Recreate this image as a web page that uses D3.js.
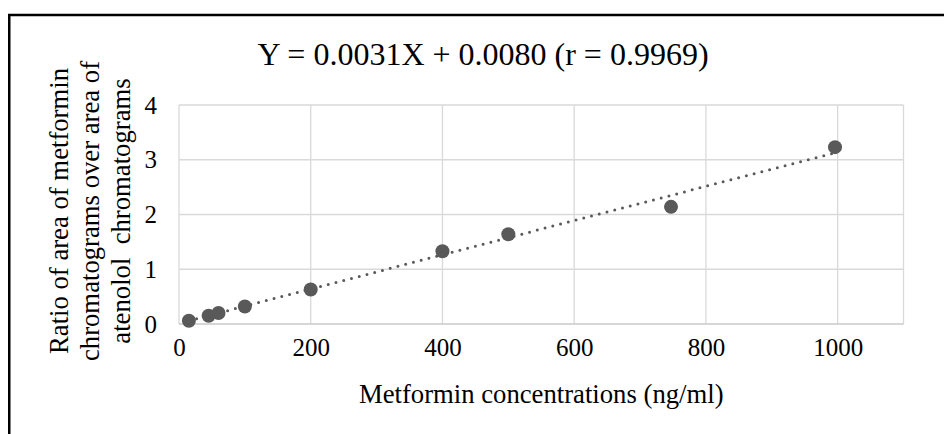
<!DOCTYPE html>
<html>
<head>
<meta charset="utf-8">
<script src="https://cdn.jsdelivr.net/npm/d3@7"></script>
<style>
  body { margin: 0; background: #fff; }
  svg text { font-family: "Liberation Serif", "Times New Roman", serif; fill: #000; }
</style>
</head>
<body>
<div id="chart"></div>
<script>
// calibration data
const concentrations = [15, 45, 60, 100, 200, 400, 500, 747, 996];
const ratios = [0.06, 0.15, 0.20, 0.32, 0.63, 1.33, 1.64, 2.14, 3.23];
const xTicks = [0, 200, 400, 600, 800, 1000];
const yTicks = [0, 1, 2, 3, 4];
const titleText = "Y = 0.0031X + 0.0080 (r = 0.9969)";
const xTitle = "Metformin concentrations (ng/ml)";
const yTitleLines = ["Ratio of area of metformin", "chromatograms over area of", "atenolol\u00a0 chromatograms"];

const w = 944;
const h = 434;
const margin = { t: 105, r: 41, b: 110, l: 179 };
const serif = '"Liberation Serif", "Times New Roman", serif';

const svg = d3.select("#chart").append("svg")
	.attr("width", w)
	.attr("height", h);

// outer frame (only top and left edges fall inside the picture)
svg.append("rect")
	.attr("x", 9.25).attr("y", 15)
	.attr("width", 1200).attr("height", 1200)
	.attr("fill", "none")
	.attr("stroke", "#000")
	.attr("stroke-width", 2.5);

const xScale = d3.scaleLinear().domain([0, 1100]).range([margin.l, w - margin.r + 0.5]);
const yScale = d3.scaleLinear().domain([0, 4]).range([h - margin.b, margin.t]);

// gridlines
const grid = svg.append("g");
grid.selectAll("line.v")
	.data(xTicks.concat([1100]))
	.join("line")
	.attr("x1", d => xScale(d)).attr("x2", d => xScale(d))
	.attr("y1", yScale(0)).attr("y2", yScale(4))
	.attr("stroke", "#d9d9d9").attr("stroke-width", 1.3);
grid.selectAll("line.h")
	.data(yTicks)
	.join("line")
	.attr("x1", xScale(0)).attr("x2", xScale(1100))
	.attr("y1", d => yScale(d)).attr("y2", d => yScale(d))
	.attr("stroke", d => d === 0 ? "#c8c8c8" : "#d9d9d9")
	.attr("stroke-width", 1.3);

// axes (labels only, no tick marks)
const xAxis = d3.axisBottom(xScale).tickValues(xTicks).tickFormat(d3.format("d")).tickSize(0).tickPadding(14);
const xAxisG = svg.append("g")
	.attr("transform", `translate(0, ${yScale(0)})`)
	.call(xAxis)
	.attr("font-family", serif)
	.attr("font-size", 25);
xAxisG.select(".domain").remove();

const yAxis = d3.axisLeft(yScale).tickValues(yTicks).tickFormat(d3.format("d")).tickSize(0).tickPadding(22);
const yAxisG = svg.append("g")
	.attr("transform", `translate(${margin.l}, 0)`)
	.call(yAxis)
	.attr("font-family", serif)
	.attr("font-size", 25);
yAxisG.select(".domain").remove();

// linear trendline from least squares
const n = concentrations.length;
const mx = d3.mean(concentrations);
const my = d3.mean(ratios);
let sxy = 0, sxx = 0;
for (let i = 0; i < n; i++) {
	sxy += (concentrations[i] - mx) * (ratios[i] - my);
	sxx += (concentrations[i] - mx) ** 2;
}
const slope = sxy / sxx;
const intercept = my - slope * mx;
const ends = d3.extent(concentrations);

svg.append("line")
	.attr("x1", xScale(ends[0])).attr("y1", yScale(slope * ends[0] + intercept))
	.attr("x2", xScale(ends[1])).attr("y2", yScale(slope * ends[1] + intercept))
	.attr("stroke", "#595959")
	.attr("stroke-width", 3)
	.attr("stroke-linecap", "round")
	.attr("stroke-dasharray", "0 8");

// markers
svg.append("g").selectAll("circle")
	.data(concentrations)
	.join("circle")
	.attr("cx", d => xScale(d))
	.attr("cy", (d, i) => yScale(ratios[i]))
	.attr("r", 7)
	.attr("fill", "#595959");

// titles
svg.append("text")
	.attr("x", 483).attr("y", 65)
	.attr("text-anchor", "middle")
	.style("font-size", "32px")
	.text(titleText);

svg.append("text")
	.attr("x", (xScale(0) + xScale(1100)) / 2).attr("y", 403)
	.attr("text-anchor", "middle")
	.style("font-size", "26.7px")
	.text(xTitle);

const yT = svg.append("text")
	.attr("transform", "translate(0, 211) rotate(-90)")
	.attr("text-anchor", "middle")
	.style("font-size", "26.7px");
yTitleLines.forEach((t, i) => {
	yT.append("tspan")
		.attr("x", 0)
		.attr("y", 68 + i * 31)
		.text(t);
});
</script>
</body>
</html>
